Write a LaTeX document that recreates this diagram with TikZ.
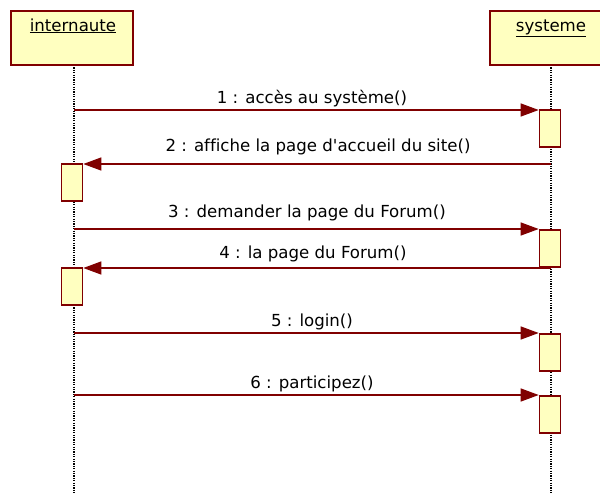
\documentclass[tikz,border=0pt]{standalone}
\usepackage{fontspec}
\newfontfamily\lblfont{DejaVu Sans}[Ligatures=NoCommon]
\usetikzlibrary{arrows.meta}
\definecolor{umlred}{RGB}{128,0,0}
\definecolor{umlfill}{RGB}{255,255,192}
\tikzset{
  head/.style={draw=umlred, fill=umlfill, line width=1.6pt, minimum width=122pt, minimum height=54pt, inner sep=0pt},
  act/.style={draw=umlred, fill=umlfill, line width=1.6pt, minimum width=21pt, minimum height=37pt, inner sep=0pt, anchor=north},
  life/.style={black, line width=1.6pt, dash pattern=on 1.2pt off 1.2pt},
  msg/.style={umlred, line width=1.3pt, -{Triangle[length=18pt,width=13pt]}},
  lbl/.style={font=\lblfont\fontsize{16.6pt}{19pt}\selectfont, anchor=base}
}
\begin{document}
\begin{tikzpicture}[x=1pt,y=-1pt]
\useasboundingbox (0,0) rectangle (600,493);
\begin{scope}
\clip (0,0) rectangle (600,493);
% lifelines
\draw[life] (74,65) -- (74,493);
\draw[life] (551,65) -- (551,493);
% heads
\node[head] (ui) at (72,38) {};
\node[lbl] at (73,31) {\underline{internaute}};
\node[head] (sys) at (551,38) {};
\node[lbl] at (551,31) {\underline{systeme}};
% activations
\node[act] (s1) at (550,109) {};
\node[act] (u1) at (72,163) {};
\node[act] (s2) at (550,229) {};
\node[act] (u2) at (72,267) {};
\node[act] (s3) at (550,333) {};
\node[act] (s4) at (550,395) {};
% lifeline coordinates
\coordinate (l1) at (74,110);
\coordinate (r2) at (551,164);
\coordinate (l3) at (74,229);
\coordinate (r4) at (551,268);
\coordinate (l5) at (74,333);
\coordinate (l6) at (74,395);
% messages
\draw[msg] (l1) -- (s1.west |- l1);
\draw[msg] (r2) -- (u1.east |- r2);
\draw[msg] (l3) -- (s2.west |- l3);
\draw[msg] (r4) -- (u2.east |- r4);
\draw[msg] (l5) -- (s3.west |- l5);
\draw[msg] (l6) -- (s4.west |- l6);
% labels
\node[lbl] (t1) at (312,103) {1 : accès au système()};
\node[lbl] (t2) at (318,151) {2 : affiche la page d'accueil du site()};
\node[lbl] (t3) at (307,217) {3 : demander la page du Forum()};
\node[lbl] (t4) at (313,258) {4 : la page du Forum()};
\node[lbl] (t5) at (312,326) {5 : login()};
\node[lbl] (t6) at (312,388) {6 : participez()};
\end{scope}
\end{tikzpicture}
\end{document}
